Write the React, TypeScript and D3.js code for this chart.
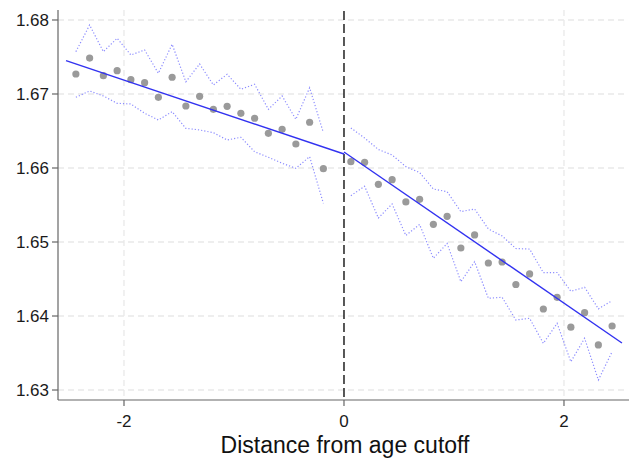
import React from "react";
import * as d3 from "d3";

// Bin centers
const leftX = [-2.4375, -2.3125, -2.1875, -2.0625, -1.9375, -1.8125, -1.6875, -1.5625, -1.4375, -1.3125, -1.1875, -1.0625, -0.9375, -0.8125, -0.6875, -0.5625, -0.4375, -0.3125, -0.1875];
const leftMean = [1.6727, 1.67486, 1.67247, 1.67315, 1.67193, 1.67153, 1.66955, 1.67226, 1.66838, 1.66969, 1.66793, 1.66834, 1.66739, 1.66672, 1.66469, 1.66523, 1.66324, 1.66618, 1.65991];
const leftUpper = [1.67572, 1.67932, 1.67572, 1.67753, 1.67527, 1.67595, 1.6728, 1.67672, 1.67166, 1.67405, 1.67122, 1.67266, 1.67064, 1.67131, 1.66793, 1.66973, 1.66658, 1.67085, 1.66477];
const leftLower = [1.66955, 1.67041, 1.66973, 1.66874, 1.66865, 1.66739, 1.66649, 1.66761, 1.66536, 1.66514, 1.66477, 1.66378, 1.66415, 1.6622, 1.66145, 1.66064, 1.65996, 1.66153, 1.65523];

const rightX = [0.0625, 0.1875, 0.3125, 0.4375, 0.5625, 0.6875, 0.8125, 0.9375, 1.0625, 1.1875, 1.3125, 1.4375, 1.5625, 1.6875, 1.8125, 1.9375, 2.0625, 2.1875, 2.3125, 2.4375];
const rightMean = [1.66085, 1.66077, 1.6578, 1.65842, 1.65541, 1.65577, 1.65239, 1.65347, 1.64919, 1.65095, 1.64716, 1.6473, 1.64426, 1.64568, 1.64095, 1.64253, 1.63849, 1.64045, 1.63609, 1.63865];
const rightUpper = [1.66541, 1.66405, 1.6625, 1.66176, 1.66018, 1.65939, 1.65716, 1.6568, 1.6541, 1.65446, 1.65176, 1.65081, 1.64912, 1.64905, 1.64585, 1.64588, 1.64334, 1.64388, 1.64097, 1.64207];
const rightLower = [1.65626, 1.65753, 1.65324, 1.65514, 1.65088, 1.65236, 1.6478, 1.6498, 1.64464, 1.64734, 1.64239, 1.64253, 1.63946, 1.63969, 1.63631, 1.63901, 1.63382, 1.63699, 1.63135, 1.63518];

// Linear fits on each side of the cutoff
const leftFitX = [-2.527, 0];
const leftFitY = [1.6745, 1.66189];
const rightFitX = [0, 2.527];
const rightFitY = [1.66216, 1.63635];

const yTicks = [1.63, 1.64, 1.65, 1.66, 1.67, 1.68];
const xTicks = [-2, 0, 2];
const xGrid = [-2, 2];
const xTitle = "Distance from age cutoff";

const W = 629;
const H = 462;

export default function App() {
  const x = d3.scaleLinear().domain([-2.6, 2.582]).range([58, 628]);
  const y = d3.scaleLinear().domain([1.62865, 1.68135]).range([400, 10]);
  const line = d3
    .line<[number, number]>()
    .x((d) => x(d[0]))
    .y((d) => y(d[1]));
  const zip = (a: number[], b: number[]) => a.map((v, i) => [v, b[i]] as [number, number]);

  const ciColor = "#8c8cff";
  const fitColor = "#3232f0";
  const font = "Arial, 'Liberation Sans', sans-serif";

  return (
    <svg width={W} height={H} style={{ position: "absolute", left: 0, top: 0 }} fontFamily={font}>
      <rect width={W} height={H} fill="#fff" />
      {/* grid */}
      {yTicks.map((t) => (
        <line key={"gy" + t} x1={58} x2={628} y1={y(t)} y2={y(t)} stroke="#e9e9e9" strokeWidth={1.3} strokeDasharray="6,4" />
      ))}
      {xGrid.map((t) => (
        <line key={"gx" + t} x1={x(t)} x2={x(t)} y1={10} y2={400} stroke="#e9e9e9" strokeWidth={1.3} strokeDasharray="6,4" />
      ))}
      {/* cutoff line */}
      <line x1={x(0)} x2={x(0)} y1={11} y2={400} stroke="#111" strokeWidth={1.4} strokeDasharray="9,4" />
      {/* CI */}
      {[zip(leftX, leftUpper), zip(leftX, leftLower), zip(rightX, rightUpper), zip(rightX, rightLower)].map((d, i) => (
        <path key={"ci" + i} d={line(d) || ""} fill="none" stroke={ciColor} strokeWidth={1.2} strokeDasharray="1.2,2" />
      ))}
      {/* points */}
      {zip(leftX, leftMean).concat(zip(rightX, rightMean)).map((d, i) => (
        <circle key={"p" + i} cx={x(d[0])} cy={y(d[1])} r={3.6} fill="#9a9a9a" />
      ))}
      {/* fits */}
      <path d={line(zip(leftFitX, leftFitY)) || ""} fill="none" stroke={fitColor} strokeWidth={1.4} />
      <path d={line(zip(rightFitX, rightFitY)) || ""} fill="none" stroke={fitColor} strokeWidth={1.4} />
      {/* axes */}
      <line x1={58} x2={58} y1={10} y2={400} stroke="#666" strokeWidth={1.2} />
      <line x1={58} x2={629} y1={400} y2={400} stroke="#666" strokeWidth={1.2} />
      {yTicks.map((t) => (
        <g key={"yt" + t}>
          <line x1={52} x2={58} y1={y(t)} y2={y(t)} stroke="#666" strokeWidth={1.2} />
          <text x={49} y={y(t)} dy="0.35em" textAnchor="end" fontSize={17} fill="#1a1a1a">
            {d3.format(".2f")(t)}
          </text>
        </g>
      ))}
      {xTicks.map((t) => (
        <g key={"xt" + t}>
          <line x1={x(t)} x2={x(t)} y1={400} y2={406} stroke="#666" strokeWidth={1.2} />
          <text x={x(t)} y={427} textAnchor="middle" fontSize={17} fill="#1a1a1a">
            {t}
          </text>
        </g>
      ))}
      <text x={345} y={453} textAnchor="middle" fontSize={23} fill="#111">
        {xTitle}
      </text>
    </svg>
  );
}
